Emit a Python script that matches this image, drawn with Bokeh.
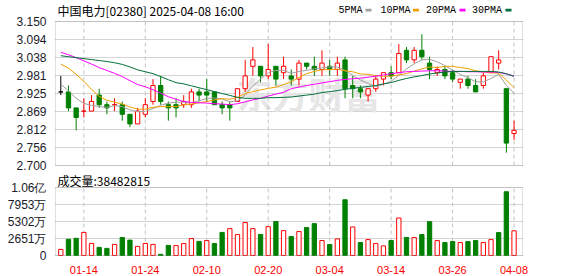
from bokeh.plotting import figure
from bokeh.layouts import column
from bokeh.models import Range1d, FixedTicker, PrintfTickFormatter, BoxAnnotation
from bokeh.core.properties import value
from bokeh.embed import file_html
from bokeh.resources import INLINE

# ---------------- data ----------------
stock_name = "中国电力[02380]"
timestamp = "2025-04-08 16:00"
dates = ["01-09", "01-10", "01-13", "01-14", "01-15", "01-16", "01-17", "01-20", "01-21", "01-22",
         "01-23", "01-24", "01-27", "01-28", "02-03", "02-04", "02-05", "02-06", "02-07", "02-10",
         "02-11", "02-12", "02-13", "02-14", "02-17", "02-18", "02-19", "02-20", "02-21", "02-24",
         "02-25", "02-26", "02-27", "02-28", "03-03", "03-04", "03-05", "03-06", "03-07", "03-10",
         "03-11", "03-12", "03-13", "03-14", "03-17", "03-18", "03-19", "03-20", "03-21", "03-24",
         "03-25", "03-26", "03-27", "03-28", "03-31", "04-01", "04-02", "04-03", "04-07", "04-08"]
opens = [2.93, 2.93, 2.88, 2.87, 2.87, 2.92, 2.89, 2.89, 2.89, 2.86,
         2.83, 2.86, 2.90, 2.95, 2.89, 2.89, 2.89, 2.89, 2.93, 2.93,
         2.93, 2.89, 2.89, 2.90, 2.94, 3.01, 3.01, 2.98, 3.01, 2.99,
         2.98, 2.97, 3.02, 3.01, 3.00, 3.01, 3.00, 3.03, 2.95, 2.94,
         2.92, 2.94, 2.97, 2.99, 2.99, 3.06, 3.03, 3.06, 3.02, 2.99,
         3.00, 2.99, 2.96, 2.97, 2.95, 2.95, 2.99, 3.02, 2.94, 2.80]
highs = [2.98, 2.95, 2.88, 2.91, 2.92, 2.94, 2.90, 2.91, 2.90, 2.86,
         2.88, 2.91, 2.97, 2.98, 2.90, 2.91, 2.92, 2.94, 2.94, 2.97,
         2.93, 2.90, 2.90, 2.94, 3.03, 3.07, 3.01, 3.08, 3.01, 3.04,
         3.00, 3.03, 3.02, 3.04, 3.06, 3.03, 3.04, 3.04, 2.98, 2.95,
         2.94, 2.98, 2.99, 3.01, 3.08, 3.07, 3.07, 3.11, 3.04, 3.01,
         3.01, 3.00, 2.97, 2.98, 2.97, 2.99, 3.04, 3.06, 2.94, 2.84]
lows = [2.92, 2.87, 2.81, 2.85, 2.87, 2.88, 2.86, 2.87, 2.84, 2.82,
        2.83, 2.85, 2.89, 2.89, 2.84, 2.85, 2.88, 2.88, 2.90, 2.90,
        2.89, 2.86, 2.84, 2.90, 2.93, 2.98, 2.96, 2.97, 2.95, 2.97,
        2.95, 2.95, 3.00, 2.98, 2.98, 2.98, 2.98, 2.91, 2.91, 2.91,
        2.90, 2.93, 2.95, 2.97, 2.99, 3.02, 3.02, 3.03, 2.97, 2.98,
        2.97, 2.96, 2.94, 2.94, 2.93, 2.94, 2.99, 3.00, 2.74, 2.78]
closes = [2.93, 2.88, 2.85, 2.87, 2.90, 2.89, 2.88, 2.89, 2.86, 2.83,
          2.87, 2.89, 2.95, 2.90, 2.88, 2.88, 2.90, 2.93, 2.92, 2.92,
          2.89, 2.88, 2.88, 2.94, 2.98, 3.03, 2.98, 3.00, 2.97, 3.01,
          2.97, 3.02, 3.01, 3.00, 3.02, 3.00, 3.02, 2.94, 2.94, 2.93,
          2.94, 2.97, 2.99, 2.98, 3.05, 3.03, 3.06, 3.04, 3.00, 3.00,
          2.98, 2.97, 2.97, 2.95, 2.93, 2.98, 3.04, 3.03, 2.77, 2.81]
prev_close = 2.93
volumes = [9500000, 25300000, 26800000, 36000000, 18800000, 12600000, 11100000, 17300000, 28100000, 24000000,
           14200000, 18800000, 17300000, 1800000, 15800000, 15500000, 18600000, 26400000, 22000000, 23300000,
           18600000, 36000000, 41900000, 32600000, 51500000, 41900000, 32800000, 45000000, 53000000, 38800000,
           29500000, 37300000, 43500000, 49700000, 23300000, 17100000, 25900000, 86900000, 44500000, 20200000,
           24800000, 18600000, 15000000, 23300000, 58500000, 28200000, 27900000, 32600000, 52800000, 23300000,
           20200000, 21700000, 20200000, 21700000, 23300000, 20200000, 24800000, 35700000, 99400000, 38482815]
ma5 = [2.954, 2.933, 2.910, 2.894, 2.888, 2.884, 2.882, 2.887, 2.884, 2.874,
       2.868, 2.869, 2.878, 2.888, 2.895, 2.898, 2.898, 2.897, 2.902, 2.910,
       2.911, 2.908, 2.899, 2.902, 2.920, 2.948, 2.970, 2.990, 2.997, 2.997,
       2.988, 2.994, 2.997, 3.002, 3.005, 3.008, 3.008, 2.997, 2.982, 2.967,
       2.956, 2.947, 2.954, 2.963, 2.982, 3.002, 3.018, 3.030, 3.032, 3.024,
       3.012, 2.998, 2.985, 2.974, 2.962, 2.961, 2.972, 2.985, 2.950, 2.926]
ma10 = [3.017, 3.004, 2.985, 2.963, 2.938, 2.916, 2.904, 2.898, 2.892, 2.883,
        2.876, 2.876, 2.882, 2.884, 2.884, 2.884, 2.890, 2.892, 2.896, 2.900,
        2.905, 2.909, 2.907, 2.913, 2.925, 2.931, 2.936, 2.941, 2.945, 2.953,
        2.962, 2.975, 2.987, 2.994, 2.999, 3.000, 3.001, 2.996, 2.993, 2.986,
        2.985, 2.981, 2.979, 2.979, 2.983, 2.987, 2.995, 3.002, 3.008, 3.006,
        3.010, 3.010, 3.006, 3.003, 2.996, 2.992, 2.990, 2.988, 2.967, 2.943]
ma20 = [3.054, 3.046, 3.037, 3.027, 3.017, 3.006, 2.997, 2.988, 2.978, 2.965,
        2.953, 2.946, 2.937, 2.926, 2.915, 2.907, 2.900, 2.897, 2.896, 2.895,
        2.893, 2.892, 2.890, 2.893, 2.899, 2.905, 2.910, 2.917, 2.923, 2.929,
        2.940, 2.945, 2.950, 2.954, 2.958, 2.962, 2.966, 2.969, 2.971, 2.973,
        2.976, 2.979, 2.983, 2.987, 2.990, 2.993, 2.994, 2.995, 2.996, 2.996,
        2.995, 2.994, 2.994, 2.993, 2.993, 2.992, 2.992, 2.991, 2.986, 2.980]
ma30 = [3.043, 3.040, 3.037, 3.034, 3.031, 3.028, 3.025, 3.021, 3.016, 3.008,
        2.999, 2.993, 2.987, 2.978, 2.968, 2.959, 2.955, 2.949, 2.943, 2.937,
        2.931, 2.925, 2.919, 2.913, 2.910, 2.910, 2.910, 2.912, 2.912, 2.913,
        2.914, 2.917, 2.920, 2.923, 2.928, 2.931, 2.934, 2.938, 2.941, 2.944,
        2.947, 2.950, 2.955, 2.959, 2.966, 2.972, 2.977, 2.981, 2.986, 2.989,
        2.992, 2.994, 2.994, 2.994, 2.994, 2.994, 2.994, 2.992, 2.987, 2.978]
ma_names = ["5PMA", "10PMA", "20PMA", "30PMA"]
price_ticks = [2.700, 2.756, 2.812, 2.869, 2.925, 2.981, 3.038, 3.094, 3.150]
vol_ticks = [0, 26510000, 53020000, 79530000, 106040000]
vol_tick_labels = ["0", "2651万", "5302万", "7953万", "1.06亿"]
date_tick_labels = ["01-14", "01-24", "02-10", "02-20", "03-04", "03-14", "03-26", "04-08"]
volume_caption = "成交量"

# ---------------- styling / layout constants ----------------
RED = "#ff0000"
GREEN = "#008000"
BLACK = "#000000"
MA_COLORS = ["#a0a0a0", "#f0a000", "#ff00ff", "#006f3a"]
GRID = "#d4d4d4"
VGRID = "#c4c4c4"
FRAME = "#999999"
LABEL_FONT = "Liberation Sans"
CJK_FONT = "Noto Sans CJK SC"

W = 578
PANEL_L, PANEL_R = 55, 522          # panel box, canvas px
A_H, A_TOP, A_BOT = 172, 21, 165    # price figure height, panel top/bottom px
B_H, B_TOP, B_BOT = 104, 187, 255   # volume figure height, panel top/bottom px (canvas)
B_Y0 = A_H                          # volume figure starts here on the canvas

n = len(dates)
idx = list(range(n))
tick_idx = [dates.index(d) for d in date_tick_labels]

x_lo, x_hi = -0.69, n + 0.1
xpp = (x_hi - x_lo) / (PANEL_R - PANEL_L)      # data units per pixel
x_range = Range1d(x_lo - xpp, x_hi + xpp)


def xd(px):
    return x_lo + (px - PANEL_L) * xpp


p_lo, p_hi = price_ticks[0], price_ticks[-1]
ppp = (p_hi - p_lo) / (A_BOT - A_TOP)
y_range_A = Range1d(p_lo - ppp, p_hi + A_TOP * ppp)


def yA(py):
    return p_hi - (py - A_TOP) * ppp


v_hi = vol_ticks[-1]
vpp = v_hi / (B_BOT - B_TOP)
y_range_B = Range1d(-vpp, v_hi + (B_TOP - B_Y0) * vpp)


def yB(py):
    return v_hi - (py - B_TOP) * vpp


# colours of candles (open/close) and of volume bars (close vs previous close)
c_col, c_fill, v_col, v_fill = [], [], [], []
for i in range(n):
    pc = closes[i - 1] if i else prev_close
    if closes[i] > opens[i]:
        col = RED
    elif closes[i] < opens[i]:
        col = GREEN
    else:
        col = RED if closes[i] > pc else (GREEN if closes[i] < pc else BLACK)
    c_col.append(col)
    c_fill.append("white" if col == RED else col)
    vc = RED if closes[i] >= pc else GREEN
    v_col.append(vc)
    v_fill.append("white" if vc == RED else vc)

body_top = [max(o, c) for o, c in zip(opens, closes)]
body_bot = [min(o, c) for o, c in zip(opens, closes)]


def style_common(p, lo, hi):
    p.outline_line_color = None
    p.background_fill_color = "white"
    p.border_fill_color = "white"
    p.xgrid.visible = False
    p.ygrid.grid_line_color = GRID
    ax = p.yaxis[0]
    ax.axis_line_color = None
    ax.major_tick_line_color = None
    ax.minor_tick_line_color = None
    ax.major_label_standoff = 2
    ax.major_label_text_font = LABEL_FONT
    ax.major_label_text_font_size = "12px"
    ax.major_label_text_color = "#1a1a2a"
    # dashed date gridlines, only inside the panel box
    p.segment(x0=tick_idx, y0=[lo] * len(tick_idx), x1=tick_idx, y1=[hi] * len(tick_idx),
              line_color=VGRID, line_dash="4 3", line_width=1)
    p.add_layout(BoxAnnotation(left=x_lo, right=x_hi, bottom=lo, top=hi,
                               fill_color=None, line_color=FRAME, line_width=1))


# ---------------- price panel ----------------
pA = figure(width=W, height=A_H, x_range=x_range, y_range=y_range_A,
            output_backend="svg", toolbar_location=None, x_axis_location=None,
            min_border_left=PANEL_L - 1, min_border_right=W - PANEL_R - 1,
            min_border_top=0, min_border_bottom=A_H - A_BOT - 1)
pA.yaxis.ticker = FixedTicker(ticks=price_ticks)
pA.yaxis.formatter = PrintfTickFormatter(format="%.3f")
pA.ygrid.ticker = FixedTicker(ticks=price_ticks)

# faint watermark
pA.text(x=[xd(236)], y=[yA(92)], text=["东方财富"], text_font=value(CJK_FONT),
        text_font_size=value("36px"), text_font_style=value("bold"),
        text_color="#e6e6e6", text_baseline=value("middle"), text_align=value("left"))

style_common(pA, p_lo, p_hi)

pA.segment(x0=idx, y0=lows, x1=idx, y1=highs, color=c_col, line_width=1)
pA.vbar(x=idx, width=0.56, top=body_top, bottom=body_bot,
        fill_color=c_fill, line_color=c_col, line_width=1)
for vals, colr in zip([ma5, ma10, ma20, ma30], MA_COLORS):
    pA.line(idx, vals, color=colr, line_width=1)

# header: title and MA legend
pA.text(x=[xd(57)], y=[yA(9.5)], text=[stock_name + " " + timestamp],
        text_font=value(CJK_FONT), text_font_size=value("12px"),
        text_color="#000000", text_baseline=value("middle"), text_align=value("left"))
leg_px = [338, 380, 425.5, 471.5]
mark_px = [365, 412.5, 459, 505]
pA.text(x=[xd(v) for v in leg_px], y=[yA(9.5)] * 4, text=ma_names,
        text_font=value("Liberation Mono"), text_font_size=value("10px"),
        text_color="#000000", text_baseline=value("middle"), text_align=value("left"))
pA.quad(left=[xd(v) for v in mark_px], right=[xd(v + 6) for v in mark_px],
        top=[yA(8.3)] * 4, bottom=[yA(11)] * 4, fill_color=MA_COLORS, line_color=None)

# ---------------- volume panel ----------------
pB = figure(width=W, height=B_H, x_range=x_range, y_range=y_range_B,
            output_backend="svg", toolbar_location=None,
            min_border_left=PANEL_L - 1, min_border_right=W - PANEL_R - 1,
            min_border_top=0, min_border_bottom=B_Y0 + B_H - B_BOT - 1)
pB.yaxis.ticker = FixedTicker(ticks=vol_ticks)
pB.yaxis.major_label_overrides = {t: l for t, l in zip(vol_ticks, vol_tick_labels)}
pB.ygrid.ticker = FixedTicker(ticks=vol_ticks)
style_common(pB, 0, v_hi)
xa = pB.xaxis[0]
xa.ticker = FixedTicker(ticks=tick_idx)
xa.major_label_overrides = {t: l for t, l in zip(tick_idx, date_tick_labels)}
xa.axis_line_color = None
xa.major_tick_line_color = None
xa.minor_tick_line_color = None
xa.major_label_standoff = 3
xa.major_label_text_font = LABEL_FONT
xa.major_label_text_font_size = "11px"
xa.major_label_text_color = RED

pB.vbar(x=idx, width=0.56, top=volumes, bottom=0, fill_color=v_fill, line_color=v_col, line_width=1)
pB.text(x=[xd(57)], y=[yB(179.5)], text=[volume_caption + ":" + str(volumes[-1])],
        text_font=value(CJK_FONT), text_font_size=value("12px"),
        text_color="#000000", text_baseline=value("middle"), text_align=value("left"))

layout = column(pA, pB, spacing=0)
open("out.html", "w").write(file_html(layout, INLINE))
